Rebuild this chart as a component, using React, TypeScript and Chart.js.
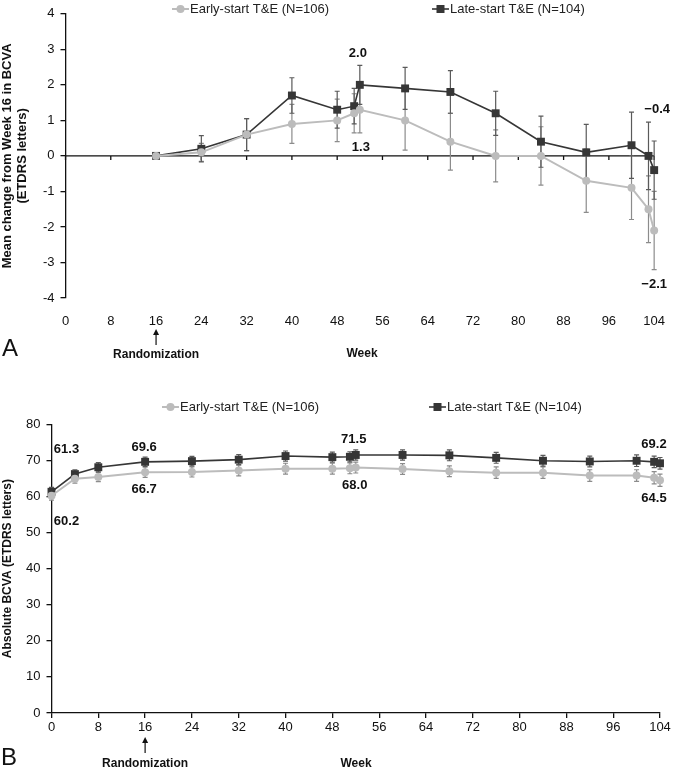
import React, { useEffect, useRef } from 'react';
import { Chart, registerables } from 'chart.js';

Chart.register(...registerables);

// ---------- Data ----------
const weeksA = [16, 24, 32, 40, 48, 51, 52, 60, 68, 76, 84, 92, 100, 103, 104];
const earlyA = [0, 0.1, 0.6, 0.9, 1.0, 1.2, 1.3, 1.0, 0.4, 0, 0, -0.7, -0.9, -1.5, -2.1];
const earlyAErr = [0, 0.25, 0.45, 0.55, 0.6, 0.55, 0.65, 0.84, 0.8, 0.73, 0.82, 0.89, 0.89, 0.94, 1.1];
const lateA = [0, 0.2, 0.6, 1.7, 1.3, 1.4, 2.0, 1.9, 1.8, 1.2, 0.4, 0.1, 0.3, 0, -0.4];
const lateAErr = [0, 0.37, 0.45, 0.5, 0.52, 0.5, 0.55, 0.59, 0.6, 0.62, 0.72, 0.79, 0.93, 0.95, 0.82];

const weeksB = [0, 4, 8, 16, 24, 32, 40, 48, 51, 52, 60, 68, 76, 84, 92, 100, 103, 104];
const earlyB = [60.2, 64.9, 65.4, 66.7, 66.8, 67.2, 67.7, 67.7, 67.8, 68.0, 67.6, 67.0, 66.6, 66.6, 65.8, 65.8, 65.2, 64.5];
const earlyBErr = [1.2, 1.2, 1.3, 1.4, 1.4, 1.5, 1.5, 1.5, 1.5, 1.5, 1.5, 1.5, 1.6, 1.6, 1.6, 1.6, 1.7, 1.7];
const lateB = [61.3, 66.2, 68.1, 69.6, 69.8, 70.2, 71.2, 70.9, 71.0, 71.5, 71.5, 71.4, 70.7, 69.9, 69.7, 69.9, 69.6, 69.2];
const lateBErr = [1.2, 1.2, 1.3, 1.3, 1.3, 1.4, 1.4, 1.4, 1.4, 1.4, 1.4, 1.5, 1.5, 1.5, 1.5, 1.6, 1.6, 1.6];

const seriesNames = ['Early-start T&E (N=106)', 'Late-start T&E (N=104)'];
const titleA = ['Mean change from Week 16 in BCVA', '(ETDRS letters)'];
const titleB = 'Absolute BCVA (ETDRS letters)';
const xTitle = 'Week';
const randText = 'Randomization';
const randWeek = 16;

// ---------- Styles ----------
const FONT = "'Liberation Sans', Arial, Helvetica, sans-serif";
const EARLY = '#bcbcbc';
const LATE = '#363636';
const EARLY_ERR = '#8c8c8c';
const LATE_ERR = '#5a5a5a';
const TXT = '#111111';

const fmt = (v: number) => (v < 0 ? '\u2212' : '') + Math.abs(v).toFixed(1);

type LabelSpec = { ds: number; i: number; dx: number; dy: number };
type PluginCfg = {
  zeroAxis: boolean;
  errors: number[][];
  legend: { x: number; y: number }[];
  labels: LabelSpec[];
  panel: string;
  panelPos: { x: number; y: number };
  arrowTip: number;
  arrowTail: number;
  randY: number;
  weekPos: { x: number; y: number };
};

function makePlugin(cfg: PluginCfg) {
  return {
    id: 'custom' + cfg.panel,
    beforeDatasetsDraw(chart: any) {
      const { ctx, chartArea } = chart;
      const x = chart.scales.x;
      const y = chart.scales.y;
      ctx.save();
      if (cfg.zeroAxis) {
        const y0 = y.getPixelForValue(0);
        ctx.strokeStyle = TXT;
        ctx.lineWidth = 1.3;
        ctx.beginPath();
        ctx.moveTo(chartArea.left, y0);
        ctx.lineTo(chartArea.right, y0);
        x.ticks.forEach((t: any) => {
          const px = x.getPixelForValue(t.value);
          ctx.moveTo(px, y0);
          ctx.lineTo(px, y0 + 4);
        });
        ctx.stroke();
      }
      chart.data.datasets.forEach((ds: any, di: number) => {
        const errs = cfg.errors[di];
        ctx.strokeStyle = di === 0 ? EARLY_ERR : LATE_ERR;
        ctx.lineWidth = 1.2;
        ds.data.forEach((p: any, i: number) => {
          const e = errs[i];
          if (!e) return;
          const px = x.getPixelForValue(p.x);
          const top = y.getPixelForValue(p.y + e);
          const bot = y.getPixelForValue(p.y - e);
          ctx.beginPath();
          ctx.moveTo(px, top);
          ctx.lineTo(px, bot);
          ctx.moveTo(px - 2.5, top);
          ctx.lineTo(px + 2.5, top);
          ctx.moveTo(px - 2.5, bot);
          ctx.lineTo(px + 2.5, bot);
          ctx.stroke();
        });
      });
      ctx.restore();
    },
    afterDraw(chart: any) {
      const { ctx } = chart;
      const x = chart.scales.x;
      const y = chart.scales.y;
      ctx.save();
      // legend
      chart.data.datasets.forEach((ds: any, di: number) => {
        const pos = cfg.legend[di];
        const col = di === 0 ? EARLY : LATE;
        ctx.strokeStyle = col;
        ctx.lineWidth = di === 0 ? 2 : 1.6;
        ctx.beginPath();
        ctx.moveTo(pos.x, pos.y);
        ctx.lineTo(pos.x + 17, pos.y);
        ctx.stroke();
        ctx.fillStyle = col;
        if (di === 0) {
          ctx.beginPath();
          ctx.arc(pos.x + 8.5, pos.y, 4, 0, Math.PI * 2);
          ctx.fill();
        } else {
          ctx.fillRect(pos.x + 8.5 - 4, pos.y - 4, 8, 8);
        }
        ctx.fillStyle = '#222';
        ctx.font = `13px ${FONT}`;
        ctx.textAlign = 'left';
        ctx.textBaseline = 'middle';
        ctx.fillText(ds.label, pos.x + 18, pos.y + 0.5);
      });
      // data labels
      ctx.font = `bold 13px ${FONT}`;
      ctx.fillStyle = TXT;
      ctx.textAlign = 'center';
      ctx.textBaseline = 'middle';
      cfg.labels.forEach((l) => {
        const p = chart.data.datasets[l.ds].data[l.i];
        const px = x.getPixelForValue(p.x);
        const py = y.getPixelForValue(p.y);
        ctx.fillText(fmt(p.y), px + l.dx, py + l.dy);
      });
      // randomization arrow
      const rx = x.getPixelForValue(randWeek);
      ctx.strokeStyle = TXT;
      ctx.lineWidth = 1.2;
      ctx.beginPath();
      ctx.moveTo(rx, cfg.arrowTail);
      ctx.lineTo(rx, cfg.arrowTip + 2);
      ctx.stroke();
      ctx.beginPath();
      ctx.moveTo(rx, cfg.arrowTip);
      ctx.lineTo(rx - 3, cfg.arrowTip + 6);
      ctx.lineTo(rx + 3, cfg.arrowTip + 6);
      ctx.closePath();
      ctx.fill();
      ctx.font = `bold 12px ${FONT}`;
      ctx.fillText(randText, rx, cfg.randY);
      ctx.fillText(xTitle, cfg.weekPos.x, cfg.weekPos.y);
      // panel letter
      ctx.font = `24px ${FONT}`;
      ctx.textAlign = 'left';
      ctx.fillText(cfg.panel, cfg.panelPos.x, cfg.panelPos.y);
      ctx.restore();
    },
  };
}

function buildDatasets(weeks: number[], early: number[], late: number[]) {
  return [
    {
      label: seriesNames[0],
      data: weeks.map((w, i) => ({ x: w, y: early[i] })),
      borderColor: EARLY,
      backgroundColor: EARLY,
      borderWidth: 2,
      pointStyle: 'circle',
      pointRadius: 4,
      pointBorderWidth: 0,
      pointBackgroundColor: EARLY,
      clip: false,
    },
    {
      label: seriesNames[1],
      data: weeks.map((w, i) => ({ x: w, y: late[i] })),
      borderColor: LATE,
      backgroundColor: LATE,
      borderWidth: 1.6,
      pointStyle: 'rect',
      pointRadius: 5.6,
      pointBorderWidth: 0,
      pointBackgroundColor: LATE,
      clip: false,
    },
  ];
}

const tickFont = { family: FONT, size: 13 };

function configA() {
  return {
    type: 'line',
    data: { datasets: buildDatasets(weeksA, earlyA, lateA) },
    options: {
      responsive: false,
      animation: false,
      events: [],
      layout: { padding: { left: 0, right: 14.5, top: 12, bottom: 0 } },
      plugins: { legend: { display: false }, tooltip: { enabled: false } },
      scales: {
        x: {
          type: 'linear',
          min: 0,
          max: 104,
          ticks: { stepSize: 8, padding: 8, color: TXT, font: tickFont },
          grid: { display: false },
          border: { display: false },
          afterFit: (s: any) => {
            s.height = 82;
          },
        },
        y: {
          min: -4,
          max: 4,
          ticks: { stepSize: 1, padding: 6, color: TXT, font: tickFont },
          grid: { drawOnChartArea: false, drawTicks: true, tickLength: 5, color: TXT, lineWidth: 1.3 },
          border: { display: true, color: TXT, width: 1.3 },
          title: {
            display: true,
            text: titleA,
            color: TXT,
            font: { family: FONT, size: 13, weight: 'bold', lineHeight: 1.15 },
            padding: { top: 0, bottom: 0 },
          },
          afterFit: (s: any) => {
            s.width = 65.5;
          },
        },
      },
    },
    plugins: [
      makePlugin({
        zeroAxis: true,
        errors: [earlyAErr, lateAErr],
        legend: [
          { x: 172, y: 9 },
          { x: 432, y: 9 },
        ],
        labels: [
          { ds: 1, i: 6, dx: -2, dy: -31 },
          { ds: 0, i: 6, dx: 1, dy: 38 },
          { ds: 1, i: 14, dx: 3, dy: -61 },
          { ds: 0, i: 14, dx: 0, dy: 54 },
        ],
        panel: 'A',
        panelPos: { x: 2, y: 349 },
        arrowTip: 329,
        arrowTail: 345,
        randY: 355,
        weekPos: { x: 362, y: 354 },
      }),
    ],
  };
}

function configB() {
  return {
    type: 'line',
    data: { datasets: buildDatasets(weeksB, earlyB, lateB) },
    options: {
      responsive: false,
      animation: false,
      events: [],
      layout: { padding: { left: 0, right: 13, top: 44.3, bottom: 0 } },
      plugins: { legend: { display: false }, tooltip: { enabled: false } },
      scales: {
        x: {
          type: 'linear',
          min: 0,
          max: 104,
          ticks: { stepSize: 8, padding: 2, color: TXT, font: tickFont },
          grid: { drawOnChartArea: false, drawTicks: true, tickLength: 5, color: TXT, lineWidth: 1.3 },
          border: { display: true, color: TXT, width: 1.3 },
          afterFit: (s: any) => {
            s.height = 59;
          },
        },
        y: {
          min: 0,
          max: 80,
          ticks: { stepSize: 10, padding: 6, color: TXT, font: tickFont },
          grid: { drawOnChartArea: false, drawTicks: true, tickLength: 5, color: TXT, lineWidth: 1.3 },
          border: { display: true, color: TXT, width: 1.3 },
          title: {
            display: true,
            text: titleB,
            color: TXT,
            font: { family: FONT, size: 12, weight: 'bold', lineHeight: 1.2 },
            padding: { top: 0, bottom: 0 },
          },
          afterFit: (s: any) => {
            s.width = 51.5;
          },
        },
      },
    },
    plugins: [
      makePlugin({
        zeroAxis: false,
        errors: [earlyBErr, lateBErr],
        legend: [
          { x: 162, y: 27 },
          { x: 429, y: 27 },
        ],
        labels: [
          { ds: 1, i: 0, dx: 15, dy: -42 },
          { ds: 0, i: 0, dx: 15, dy: 26 },
          { ds: 1, i: 3, dx: -1, dy: -14 },
          { ds: 0, i: 3, dx: -1, dy: 17 },
          { ds: 1, i: 9, dx: -2, dy: -16 },
          { ds: 0, i: 9, dx: -1, dy: 18 },
          { ds: 1, i: 17, dx: -6, dy: -19 },
          { ds: 0, i: 17, dx: -6, dy: 18 },
        ],
        panel: 'B',
        panelPos: { x: 1, y: 378 },
        arrowTip: 357,
        arrowTail: 373,
        randY: 384,
        weekPos: { x: 356, y: 384 },
      }),
    ],
  };
}

function ChartCanvas({ make, width, height, top }: { make: () => any; width: number; height: number; top: number }) {
  const ref = useRef<HTMLCanvasElement | null>(null);
  useEffect(() => {
    if (!ref.current) return;
    const chart = new Chart(ref.current, make());
    return () => chart.destroy();
  }, [make]);
  return (
    <canvas
      ref={ref}
      width={width}
      height={height}
      style={{ position: 'absolute', left: 0, top, width, height, display: 'block' }}
    />
  );
}

export default function App() {
  return (
    <div style={{ position: 'absolute', left: 0, top: 0, width: 673, height: 772, background: '#ffffff', overflow: 'hidden' }}>
      <ChartCanvas make={configA} width={673} height={380} top={0} />
      <ChartCanvas make={configB} width={673} height={392} top={380} />
    </div>
  );
}
